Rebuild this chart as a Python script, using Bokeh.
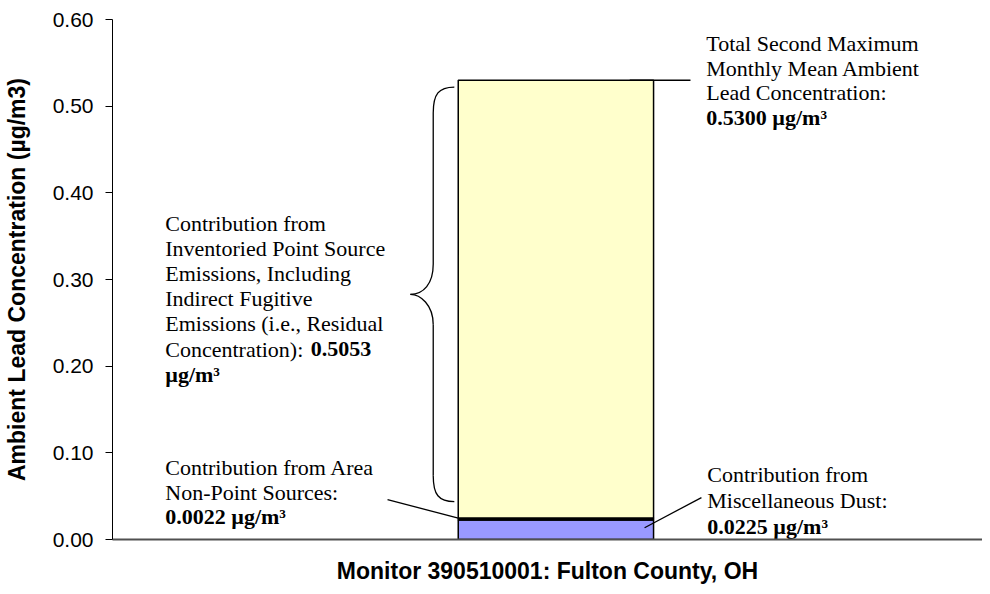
from bokeh.plotting import figure
from bokeh.models import Range1d, FixedTicker, NumeralTickFormatter
from bokeh.core.properties import value
from bokeh.embed import file_html
from bokeh.resources import INLINE

# ---------------- data ----------------
segment_names = ["Miscellaneous Dust", "Area Non-Point Sources", "Inventoried Point Sources (Residual)"]
segment_values = [0.0225, 0.0022, 0.5053]
segment_colors = ["#9999FF", "#000000", "#FFFFCC"]
total_value = 0.5300
monitor_label = "Monitor 390510001: Fulton County, OH"
y_title = "Ambient Lead Concentration (µg/m3)"
y_ticks = [0.0, 0.1, 0.2, 0.3, 0.4, 0.5, 0.6]

# stacked bar bottoms / tops
bottoms, tops = [], []
acc = 0.0
for v in segment_values:
    bottoms.append(acc)
    acc += v
    tops.append(acc)

SERIF = value("Liberation Serif")
SANS = "Liberation Sans"
FS = value("22px")

p = figure(width=982, height=586, output_backend="svg", toolbar_location=None,
           x_range=Range1d(-2.270, 2.184), y_range=Range1d(0, 0.6),
           min_border_left=109, min_border_right=0, min_border_top=19, min_border_bottom=46)
p.outline_line_color = None
p.xgrid.visible = False
p.ygrid.visible = False
p.background_fill_color = "white"
p.border_fill_color = "white"

# bar
p.vbar(x=[0] * 3, width=1.0, bottom=bottoms, top=tops, fill_color=segment_colors,
       line_color="black", line_width=1.5)

# y axis
ya = p.yaxis[0]
ya.ticker = FixedTicker(ticks=y_ticks)
ya.formatter = NumeralTickFormatter(format="0.00")
ya.major_tick_out = 7
ya.major_tick_in = 0
ya.minor_tick_out = 0
ya.minor_tick_in = 0
ya.axis_line_color = "black"
ya.major_tick_line_color = "black"
ya.major_label_text_font = SANS
ya.major_label_text_font_size = "21px"
ya.major_label_text_color = "black"
ya.major_label_standoff = 12
ya.axis_label = y_title
ya.axis_label_text_font = SANS
ya.axis_label_text_font_style = "bold"
ya.axis_label_text_font_size = "23px"
ya.axis_label_text_color = "black"
ya.axis_label_standoff = 20

# x axis
xa = p.xaxis[0]
xa.ticker = FixedTicker(ticks=[])
xa.major_tick_out = 0
xa.major_tick_in = 0
xa.minor_tick_out = 0
xa.minor_tick_in = 0
xa.major_label_standoff = 0
xa.axis_line_color = "#505050"
xa.axis_line_width = 2
xa.axis_label = monitor_label
xa.axis_label_text_font = SANS
xa.axis_label_text_font_style = "bold"
xa.axis_label_text_font_size = "23px"
xa.axis_label_text_color = "black"
xa.axis_label_standoff = 18


def block(x, y0, step, lines, bold_flags):
    for i, (t, b) in enumerate(zip(lines, bold_flags)):
        p.text(x=[x], y=[y0 - i * step], text=[t], text_font=SERIF, text_font_size=FS,
               text_font_style="bold" if b else "normal", text_baseline="middle",
               text_align="left", text_color="black")


unit = "µg/m³"
# total label (top right)
block(0.770, 0.5724, 0.0284,
      ["Total Second Maximum", "Monthly Mean Ambient", "Lead Concentration:",
       f"{total_value:.4f} {unit}"],
      [False, False, False, True])
p.segment(x0=[0.378], y0=[total_value], x1=[0.689], y1=[total_value], line_color="black", line_width=1.5)

# residual label (left)
left_x = -2.0
left_step = 0.0291
block(left_x, 0.3651, left_step,
      ["Contribution from", "Inventoried Point Source", "Emissions, Including",
       "Indirect Fugitive", "Emissions (i.e., Residual", "Concentration):"],
      [False] * 6)
p.text(x=[left_x + 0.745], y=[0.3651 - 5 * left_step], text=[f"{segment_values[2]:.4f}"],
       text_font=SERIF, text_font_size=FS, text_font_style="bold", text_baseline="middle")
p.text(x=[left_x], y=[0.3651 - 6 * left_step], text=[unit],
       text_font=SERIF, text_font_size=FS, text_font_style="bold", text_baseline="middle")

# brace for residual segment
yt = tops[2] - 0.008
yb = bottoms[2] + 0.019
ym = (yt + yb) / 2
tipx, vx, cx = -0.52, -0.628, -0.745
p.bezier(x0=[tipx, vx, cx, vx], y0=[yt, ym + 0.035, ym, yb + 0.030],
         x1=[vx, cx, vx, tipx], y1=[yt - 0.030, ym, ym - 0.035, yb],
         cx0=[tipx - 0.08, vx, cx + 0.05, vx], cy0=[yt, ym + 0.012, ym, yb + 0.008],
         cx1=[vx, vx - 0.05, vx, tipx - 0.08], cy1=[yt - 0.008, ym, ym - 0.012, yb],
         line_color="black", line_width=1.3)
p.segment(x0=[vx, vx], y0=[yt - 0.030, ym - 0.035], x1=[vx, vx], y1=[ym + 0.035, yb + 0.030],
          line_color="black", line_width=1.3)

# area non-point label (bottom left)
block(left_x, 0.0829, 0.0282,
      ["Contribution from Area", "Non-Point Sources:", f"{segment_values[1]:.4f} {unit}"],
      [False, False, True])
p.segment(x0=[-0.862], y0=[0.046], x1=[-0.5], y1=[tops[1]], line_color="black", line_width=1.3)

# misc dust label (bottom right)
block(0.775, 0.0749, 0.0297,
      ["Contribution from", "Miscellaneous Dust:", f"{segment_values[0]:.4f} {unit}"],
      [False, False, True])
p.segment(x0=[0.454], y0=[segment_values[0] * 0.6], x1=[0.745], y1=[0.0484],
          line_color="black", line_width=1.3)

open("out.html", "w").write(file_html(p, INLINE))
